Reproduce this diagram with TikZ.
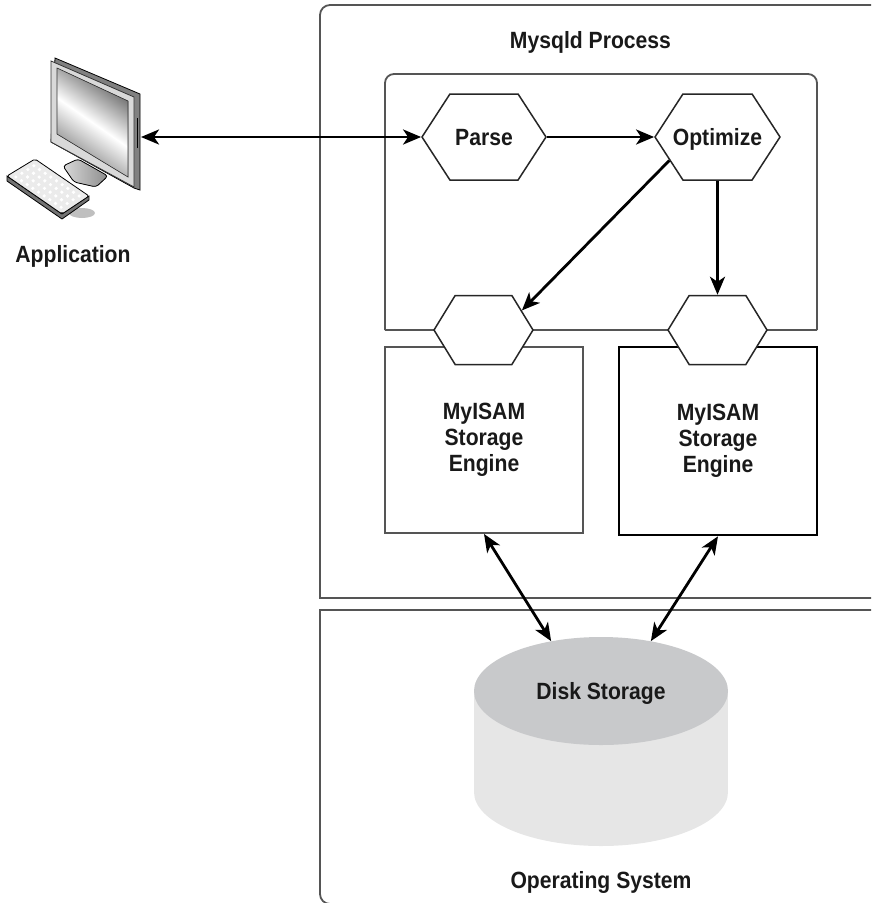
\documentclass[tikz,border=0pt]{standalone}
\usepackage{fontspec}
\setmainfont{Liberation Sans}[FakeStretch=0.9]
\usetikzlibrary{shapes.symbols,shapes.geometric,arrows.meta,calc}

\definecolor{diskTop}{RGB}{200,201,203}
\definecolor{diskSide}{RGB}{230,230,230}
\definecolor{frameGray}{RGB}{85,85,85}

\begin{document}
\begin{tikzpicture}[x=1pt,y=-1pt,
  >={Stealth[length=18pt,width=15pt,inset=5pt]},
  frame/.style={draw=frameGray, line width=1.8pt},
  lbl/.style={font=\fontsize{23.5}{26}\selectfont\bfseries, text=black!90},
  centred/.style={lbl, text height=17pt, text depth=0pt, inner sep=0pt},
  hexa/.style={shape=signal, signal to=west and east, signal from=nowhere,
    draw=black!85, line width=1.5pt, fill=white, inner sep=0pt},
  arr/.style={line width=2.8pt, ->},
  darr/.style={line width=2.8pt, <->},
]
\useasboundingbox (0,0) rectangle (871,903);
\clip (0,0) rectangle (871,903);

% ---- application: monitor, stand and keyboard ----
\fill[black!25] (82,213) ellipse (13 and 5);
\filldraw[fill=black!55, draw=black, line width=0.8pt]
  (7,176) -- (62,214) -- (89,196) -- (89,200) -- (62,219) -- (7,181) -- cycle;
\filldraw[fill=black!8, draw=black, line width=0.8pt, rounded corners=2pt]
  (7,176) -- (35,159) -- (89,196) -- (62,214) -- cycle;
\foreach \i in {0,...,8}
  \foreach \j in {0,...,3}
    \fill[white] ({10+(\i+0.5)/9*51+(\j+0.5)/4*24},{177+(\i+0.5)/9*34-(\j+0.5)/4*15}) circle (1.8);

\filldraw[left color=black!15, right color=black!45, draw=black, line width=0.8pt, rounded corners=3pt]
  (63,166) -- (78,159) -- (108,176) -- (96,187) -- (74,182) -- cycle;

\filldraw[fill=black!50, draw=black, line width=0.8pt]
  (55,58) -- (140,94) -- (140,190) -- (134,188) -- (51,142) -- cycle;
\filldraw[fill=black!15, draw=black!80, line width=0.8pt]
  (51,61) -- (134,97) -- (134,187) -- (51,142) -- cycle;
\filldraw[left color=black!65, right color=black!55, middle color=white,
  shading angle=-35, draw=black!80, line width=0.6pt]
  (57,68) -- (128,101) -- (128,177) -- (57,134) -- cycle;
\draw[line width=1.3pt] (137.5,118) -- (137.5,148);
\coordinate (appport) at (141,137);
\node[lbl, anchor=base] (applbl) at (73,262) {Application};

% ---- mysqld process frame ----
\draw[frame] (880,598) -- (320,598) -- (320,300);
\draw[frame, rounded corners=10pt] (320,300) -- (320,5) -- (880,5);
\node[lbl, anchor=base] (mysqld) at (590.5,48) {Mysqld Process};

% ---- query layer frame ----
\draw[frame] (385,330) -- (817,330);
\draw[frame, rounded corners=9pt] (385,330) -- (385,74) -- (817,74) -- (817,330);

% ---- storage engines ----
\node[frame, minimum width=198, minimum height=186, lbl, align=center]
  (eng1) at (484,440) {MyISAM\\Storage\\Engine};
\node[draw=black, line width=2.6pt, minimum width=198, minimum height=188, lbl, align=center]
  (eng2) at (718,441) {MyISAM\\Storage\\Engine};

% ---- hexagons ----
\node[hexa, signal pointer angle=114, minimum width=124, minimum height=86,
  label={[centred]center:Parse}] (parse) at (484,137) {};
\node[hexa, signal pointer angle=114, minimum width=125, minimum height=86,
  label={[centred]center:Optimize}] (opt) at (717.5,137) {};
\node[hexa, signal pointer angle=117, minimum width=99, minimum height=69] (hexl) at (483.5,330) {};
\node[hexa, signal pointer angle=117, minimum width=99, minimum height=69] (hexr) at (717.5,330) {};

% ---- operating system frame ----
\draw[frame] (880,610) -- (320,610) -- (320,750);
\draw[frame, rounded corners=10pt] (320,750) -- (320,904) -- (880,904);
\node[lbl, anchor=base] (os) at (601,888) {Operating System};

% ---- disk ----
\fill[diskSide] (601,792) ellipse (127 and 54);
\fill[diskSide] (474,691) rectangle (728,792);
\node[ellipse, fill=diskTop, minimum width=254, minimum height=108, inner sep=0pt,
  centred] (disk) at (601,691) {Disk Storage};

% ---- connectors ----
\draw[darr] (appport) -- (parse.west);
\draw[arr] (parse.east) -- (opt.west);
\draw[arr] (opt.206) -- (hexl.27);
\draw[arr] (opt.south) -- (hexr.north);
\draw[darr] (eng1.south) -- (disk.135);
\draw[darr] (eng2.south) -- (disk.45);
\end{tikzpicture}
\end{document}
